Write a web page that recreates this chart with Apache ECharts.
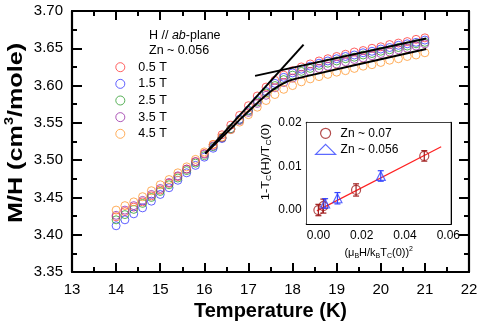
<!DOCTYPE html>
<html><head><meta charset="utf-8">
<script src="https://cdn.jsdelivr.net/npm/echarts@6/dist/echarts.min.js"></script>
<style>html,body{margin:0;padding:0;background:#fff}#c{width:485px;height:327px}</style>
</head><body><div id="c"></div>
<script>
// ---- main panel data ----
const temps = [14.0,14.2,14.4,14.6,14.8,15.0,15.2,15.4,15.6,15.8,16.0,16.2,16.4,16.6,16.8,17.0,17.2,17.4,17.6,17.8,18.0,18.2,18.4,18.6,18.8,19.0,19.2,19.4,19.6,19.8,20.0,20.2,20.4,20.6,20.8,21.0];
const mh05 = [3.424,3.431,3.437,3.444,3.452,3.460,3.469,3.478,3.488,3.498,3.509,3.521,3.534,3.547,3.560,3.573,3.586,3.598,3.607,3.614,3.620,3.625,3.629,3.633,3.636,3.639,3.642,3.645,3.647,3.650,3.652,3.655,3.657,3.659,3.662,3.664];
const mh15 = [3.412,3.420,3.428,3.436,3.445,3.454,3.463,3.473,3.483,3.493,3.504,3.516,3.529,3.542,3.555,3.567,3.580,3.592,3.603,3.611,3.617,3.622,3.626,3.630,3.633,3.636,3.639,3.641,3.644,3.646,3.649,3.651,3.654,3.656,3.658,3.661];
const mh25 = [3.420,3.427,3.434,3.442,3.450,3.458,3.467,3.476,3.486,3.496,3.506,3.518,3.530,3.542,3.554,3.566,3.578,3.590,3.600,3.608,3.614,3.619,3.623,3.627,3.630,3.633,3.636,3.638,3.641,3.643,3.646,3.648,3.651,3.653,3.656,3.658];
const mh35 = [3.426,3.433,3.439,3.446,3.454,3.462,3.470,3.479,3.488,3.498,3.508,3.519,3.530,3.541,3.553,3.564,3.576,3.587,3.597,3.604,3.610,3.615,3.619,3.623,3.626,3.629,3.632,3.635,3.637,3.640,3.643,3.645,3.648,3.650,3.653,3.656];
const mh45 = [3.433,3.439,3.444,3.451,3.459,3.467,3.474,3.483,3.491,3.501,3.511,3.521,3.531,3.541,3.551,3.561,3.571,3.580,3.588,3.595,3.600,3.605,3.609,3.612,3.615,3.618,3.620,3.623,3.626,3.628,3.631,3.634,3.636,3.639,3.641,3.644];
const fieldNames = ['0.5 T','1.5 T','2.5 T','3.5 T','4.5 T'];
const fieldColors = ['#ff3b3b','#3a3aff','#2f9e2f','#9a2fa8','#ff9a33'];
// black guide lines
const fitSteepT = [16.02, 18.25];
const fitSteepV = [3.509, 3.655];
const fitHighT = [17.15, 21.03];
const fitHighV = [3.613, 3.663];
const fitCurveT = [16.02,16.30,16.58,16.85,17.10,17.30,17.50,17.70,17.90,18.20,21.03];
const fitCurveV = [3.509,3.525,3.541,3.557,3.571,3.582,3.592,3.600,3.606,3.611,3.649];

// ---- inset data ----
const zn07X = [0.0000, 0.0023, 0.0174, 0.0489];
const zn07Y = [0.0000, 0.0009, 0.0046, 0.0124];
const zn07E = [0.0013, 0.0016, 0.0014, 0.0012];
const zn056X = [0.0031, 0.0088, 0.0288];
const zn056Y = [0.0015, 0.0027, 0.0078];
const zn056E = [0.0011, 0.0013, 0.0012];
const insetFitX = [-0.0007, 0.0567];
const insetFitY = [-0.0002, 0.0145];
const insetXMajor = [0, 0.02, 0.04, 0.06];
const insetXMinor = [0.01, 0.03, 0.05];
const insetYMajor = [0, 0.01, 0.02];
const insetYMinor = [0.005, 0.015];

const FONT = '"Liberation Sans", Arial, Helvetica, sans-serif';
const zip = (a, b) => a.map((v, i) => [v, b[i]]);
const chart = echarts.init(document.getElementById('c'), null, {renderer: 'canvas'});

const mainSeriesVals = [mh05, mh15, mh25, mh35, mh45];
const series = [];
mainSeriesVals.forEach((vals, i) => {
  series.push({
    type: 'scatter', name: fieldNames[i], xAxisIndex: 0, yAxisIndex: 0,
    data: zip(temps, vals), symbol: 'circle', symbolSize: 8,
    itemStyle: {color: 'rgba(0,0,0,0)', borderColor: fieldColors[i], borderWidth: 1},
    emphasis: {disabled: true}, silent: true, z: 2
  });
});
[[fitSteepT, fitSteepV], [fitHighT, fitHighV]].forEach(([t, v]) => {
  series.push({type: 'line', xAxisIndex: 0, yAxisIndex: 0, data: zip(t, v), showSymbol: false,
    lineStyle: {color: '#000', width: 2}, silent: true, z: 3});
});
series.push({type: 'line', xAxisIndex: 0, yAxisIndex: 0, data: zip(fitCurveT, fitCurveV), showSymbol: false,
  smooth: 0.3, lineStyle: {color: '#000', width: 2}, silent: true, z: 3});

// inset
const errRender = (color) => (params, api) => {
  const x = api.value(0), y = api.value(1), e = api.value(2);
  const t = api.coord([x, y + e]), b = api.coord([x, y - e]);
  const w = 3, st = {stroke: color, lineWidth: 1.2};
  return {type: 'group', children: [
    {type: 'line', shape: {x1: t[0], y1: t[1], x2: b[0], y2: b[1]}, style: st},
    {type: 'line', shape: {x1: t[0] - w, y1: t[1], x2: t[0] + w, y2: t[1]}, style: st},
    {type: 'line', shape: {x1: b[0] - w, y1: b[1], x2: b[0] + w, y2: b[1]}, style: st}
  ]};
};
const zn07Color = '#a01e1e', zn056Color = '#3344ff';
series.push({type: 'line', xAxisIndex: 2, yAxisIndex: 2, data: zip(insetFitX, insetFitY), showSymbol: false,
  lineStyle: {color: '#ff2020', width: 1.2}, silent: true, z: 10});
series.push({type: 'custom', xAxisIndex: 2, yAxisIndex: 2, renderItem: errRender(zn07Color),
  data: zn07X.map((x, i) => [x, zn07Y[i], zn07E[i]]), silent: true, z: 11});
series.push({type: 'custom', xAxisIndex: 2, yAxisIndex: 2, renderItem: errRender(zn056Color),
  data: zn056X.map((x, i) => [x, zn056Y[i], zn056E[i]]), silent: true, z: 11});
series.push({type: 'scatter', name: 'Zn ~ 0.07', xAxisIndex: 2, yAxisIndex: 2, data: zip(zn07X, zn07Y),
  symbol: 'circle', symbolSize: 9, itemStyle: {color: 'rgba(0,0,0,0)', borderColor: zn07Color, borderWidth: 1.2}, silent: true, z: 12});
series.push({type: 'scatter', name: 'Zn ~ 0.056', xAxisIndex: 2, yAxisIndex: 2, data: zip(zn056X, zn056Y),
  symbol: 'triangle', symbolSize: 9, itemStyle: {color: 'rgba(0,0,0,0)', borderColor: zn056Color, borderWidth: 1.2}, silent: true, z: 12});

const frameLine = {show: true, onZero: false, lineStyle: {color: '#000', width: 2.2}};
const mainX = (pos, labels) => ({
  type: 'value', gridIndex: 0, position: pos, min: 13, max: 22, interval: 1,
  axisLine: frameLine,
  axisTick: {show: true, inside: true, length: 9, lineStyle: {color: '#000', width: 2}},
  minorTick: {show: true, splitNumber: 2, length: 5, lineStyle: {color: '#000', width: 2}},
  splitLine: {show: false},
  axisLabel: {show: labels, fontSize: 15, fontFamily: FONT, color: '#000', margin: 10},
  name: labels ? 'Temperature (K)' : '', nameLocation: 'middle', nameGap: 29,
  nameTextStyle: {fontSize: 20, fontWeight: 'bold', fontFamily: FONT, color: '#000'}
});
const mainY = (pos, labels) => ({
  type: 'value', gridIndex: 0, position: pos, min: 3.35, max: 3.70, interval: 0.05,
  axisLine: frameLine,
  axisTick: {show: true, inside: true, length: 10, lineStyle: {color: '#000', width: 2}},
  minorTick: {show: true, splitNumber: 2, length: 5, lineStyle: {color: '#000', width: 2}},
  splitLine: {show: false},
  axisLabel: {show: labels, fontSize: 15, fontFamily: FONT, color: '#000', margin: 9,
    formatter: v => v.toFixed(2)}
});
const insetX = (pos, ticks, len, labels, line) => ({
  type: 'value', gridIndex: 1, position: pos, min: -0.0054, max: 0.0611,
  axisLine: line ? {show: true, onZero: false, lineStyle: {color: '#000', width: 2}} : {show: false},
  axisTick: {show: true, inside: true, length: len, customValues: ticks, lineStyle: {color: '#000', width: 1.6}},
  splitLine: {show: false},
  axisLabel: {show: labels, customValues: ticks, fontSize: 12, fontFamily: FONT, color: '#000', margin: 6,
    formatter: v => v.toFixed(2)},
  name: labels ? '(μ{sub|B}H/k{sub|B}T{sub|C}(0)){sup|2}' : '', nameLocation: 'middle', nameGap: 22,
  nameTextStyle: {fontSize: 11, fontFamily: FONT, color: '#000', lineHeight: 14,
    rich: {sub: {fontSize: 7, fontFamily: FONT, verticalAlign: 'bottom', lineHeight: 10},
           sup: {fontSize: 7, fontFamily: FONT, verticalAlign: 'top', lineHeight: 12}}}
});
const insetY = (pos, ticks, len, labels, line) => ({
  type: 'value', gridIndex: 1, position: pos, min: -0.0032, max: 0.02,
  axisLine: line ? {show: true, onZero: false, lineStyle: {color: '#000', width: 2}} : {show: false},
  axisTick: {show: true, inside: true, length: len, customValues: ticks, lineStyle: {color: '#000', width: 1.6}},
  splitLine: {show: false},
  axisLabel: {show: labels, customValues: ticks, fontSize: 12, fontFamily: FONT, color: '#000', margin: 5,
    formatter: v => v.toFixed(2)}
});

const option = {
  animation: false,
  backgroundColor: '#fff',
  grid: [
    {left: 72, right: 16, top: 11, bottom: 55, containLabel: false},
    {left: 306.7, top: 122.7, width: 144, height: 101.3, show: true, backgroundColor: '#fff', borderWidth: 0, z: 8}
  ],
  xAxis: [
    mainX('bottom', true), mainX('top', false),
    insetX('bottom', insetXMajor, 6, true, true), insetX('bottom', insetXMinor, 3, false, false),
    insetX('top', insetXMajor, 6, false, true), insetX('top', insetXMinor, 3, false, false)
  ],
  yAxis: [
    mainY('left', true), mainY('right', false),
    insetY('left', insetYMajor, 6, true, true), insetY('left', insetYMinor, 3, false, false),
    insetY('right', insetYMajor, 6, false, true), insetY('right', insetYMinor, 3, false, false)
  ],
  legend: [
    {data: fieldNames, orient: 'vertical', left: 115.3, top: 60.7, padding: 0,
      itemWidth: 26, itemHeight: 9, itemGap: 3.65, icon: 'circle',
      itemStyle: {borderWidth: 1},
      textStyle: {fontSize: 12.5, fontFamily: FONT, color: '#000', lineHeight: 12}, selectedMode: false},
    {data: ['Zn ~ 0.07', 'Zn ~ 0.056'], orient: 'vertical', left: 315, top: 127.3, padding: 0,
      itemWidth: 20, itemHeight: 10, itemGap: 4, itemStyle: {borderWidth: 1.2},
      textStyle: {fontSize: 12, fontFamily: FONT, color: '#000', lineHeight: 12}, selectedMode: false, z: 20}
  ],
  graphic: [
    {type: 'text', x: 149, y: 36, style: {text: '{n|H // }{i|ab}{n|-plane}', verticalAlign: 'middle',
      rich: {n: {fontSize: 12.5, fontFamily: FONT, fill: '#000'}, i: {fontSize: 12.5, fontFamily: FONT, fontStyle: 'italic', fill: '#000'}}}},
    {type: 'text', x: 149, y: 51, style: {text: 'Zn ~ 0.056', verticalAlign: 'middle', fontSize: 12.5, fontFamily: FONT, fill: '#000'}},
    // main y-axis title (rotated, stretched along its length like the reference)
    {type: 'text', x: 16, y: 133, rotation: Math.PI / 2, scaleX: 1.2, z: 50,
      style: {text: 'M/H (cm{sup|3}/mole)', align: 'center', verticalAlign: 'middle',
        fontSize: 21, fontWeight: 'bold', fontFamily: FONT, fill: '#000',
        rich: {sup: {fontSize: 12, fontWeight: 'bold', fontFamily: FONT, fill: '#000', verticalAlign: 'top', lineHeight: 24}}}},
    // inset y-axis title
    {type: 'text', x: 266, y: 162, rotation: Math.PI / 2, scaleX: 1.12, z: 50,
      style: {text: '1-T{sub|C}(H)/T{sub|C}(0)', align: 'center', verticalAlign: 'middle',
        fontSize: 11.5, fontFamily: FONT, fill: '#000', lineHeight: 14,
        rich: {sub: {fontSize: 7.5, fontFamily: FONT, fill: '#000', verticalAlign: 'bottom', lineHeight: 10}}}}
  ],
  series: series
};
chart.setOption(option);
</script>
</body></html>
